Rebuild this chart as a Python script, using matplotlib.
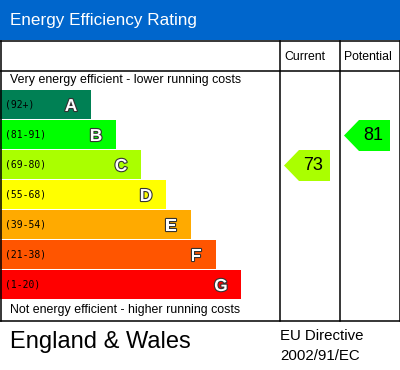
import matplotlib
matplotlib.use("Agg")
import matplotlib.pyplot as plt
from matplotlib.patches import Rectangle, Polygon
import matplotlib.patheffects as pe

letters = ["A", "B", "C", "D", "E", "F", "G"]
ranges = ["(92+)", "(81-91)", "(69-80)", "(55-68)", "(39-54)", "(21-38)", "(1-20)"]
lower_bounds = [92, 81, 69, 55, 39, 21, 1]
colors = ["#008054", "#00ff00", "#aaff00", "#ffff00", "#ffaa00", "#ff5500", "#ff0000"]
current = 73
potential = 81

W, H = 400, 370
fig = plt.figure(figsize=(4, 3.7), dpi=100)
ax = fig.add_axes([0, 0, 1, 1])
ax.set_xlim(0, W)
ax.set_ylim(H, 0)
ax.axis("off")
font = "Liberation Sans"

# header
ax.add_patch(Rectangle((0, 0), W, 40, color="#0066cc", lw=0))
ax.text(10, 25, "Energy Efficiency Rating", color="white", fontsize=12.3,
        family=font, va="baseline", ha="left")

# table lines
lw = 1.1
ax.plot([0, 399.5], [40.5, 40.5], color="black", lw=lw)
ax.plot([0, 399.5], [70.5, 70.5], color="black", lw=lw)
ax.plot([0, 399.5], [320.5, 320.5], color="black", lw=lw)
ax.plot([0.5, 0.5], [40.5, 320.5], color="black", lw=lw)
ax.plot([399.5, 399.5], [40.5, 320.5], color="black", lw=lw)
ax.plot([279.5, 279.5], [40.5, 320.5], color="black", lw=lw)
ax.plot([339.5, 339.5], [40.5, 320.5], color="black", lw=lw)

ax.text(305, 60, "Current", fontsize=8.8, family=font, ha="center", va="baseline")
ax.text(368, 60, "Potential", fontsize=8.8, family=font, ha="center", va="baseline")

ax.text(10, 83.5, "Very energy efficient - lower running costs", fontsize=8.9,
        family=font, ha="left", va="baseline")
ax.text(10, 313, "Not energy efficient - higher running costs", fontsize=8.9,
        family=font, ha="left", va="baseline")

top0, step, bh = 90, 30, 29
for i, (L, r, c) in enumerate(zip(letters, ranges, colors)):
    y = top0 + i * step
    right = 91 + 25 * i
    ax.add_patch(Rectangle((0, y), right, bh, color=c, lw=0))
    ax.text(5, y + bh / 2, r, fontsize=7, family="DejaVu Sans Mono",
            ha="left", va="center", color="black")
    t = ax.text(right - 20, y + bh / 2 + 2, L, fontsize=12.5, family=font,
                fontweight="bold", ha="center", va="center", color="white")
    t.set_path_effects([pe.Stroke(linewidth=1.6, foreground="#333333"), pe.Normal()])


def band_of(v):
    for i, lb in enumerate(lower_bounds):
        if v >= lb:
            return i
    return len(lower_bounds) - 1


def arrow(value, xtip):
    i = band_of(value)
    y0 = top0 + i * step
    h = 31
    xs = xtip + 15
    xe = xtip + 46
    pts = [(xtip, y0 + h / 2), (xs, y0), (xe, y0), (xe, y0 + h), (xs, y0 + h)]
    ax.add_patch(Polygon(pts, closed=True, color=colors[i], lw=0))
    ax.text(xs + (xe - xs) / 2 - 1, y0 + 20.5, str(value), fontsize=13,
            family=font, ha="center", va="baseline", color="black")


arrow(current, 284)
arrow(potential, 344)

ax.text(10, 348, "England & Wales", fontsize=17, family=font, ha="left", va="baseline")
ax.text(280, 340, "EU Directive", fontsize=10.8, family=font, ha="left", va="baseline")
ax.text(280, 360, "2002/91/EC", fontsize=10.8, family=font, ha="left", va="baseline")

fig.savefig("out.png", dpi=100)
